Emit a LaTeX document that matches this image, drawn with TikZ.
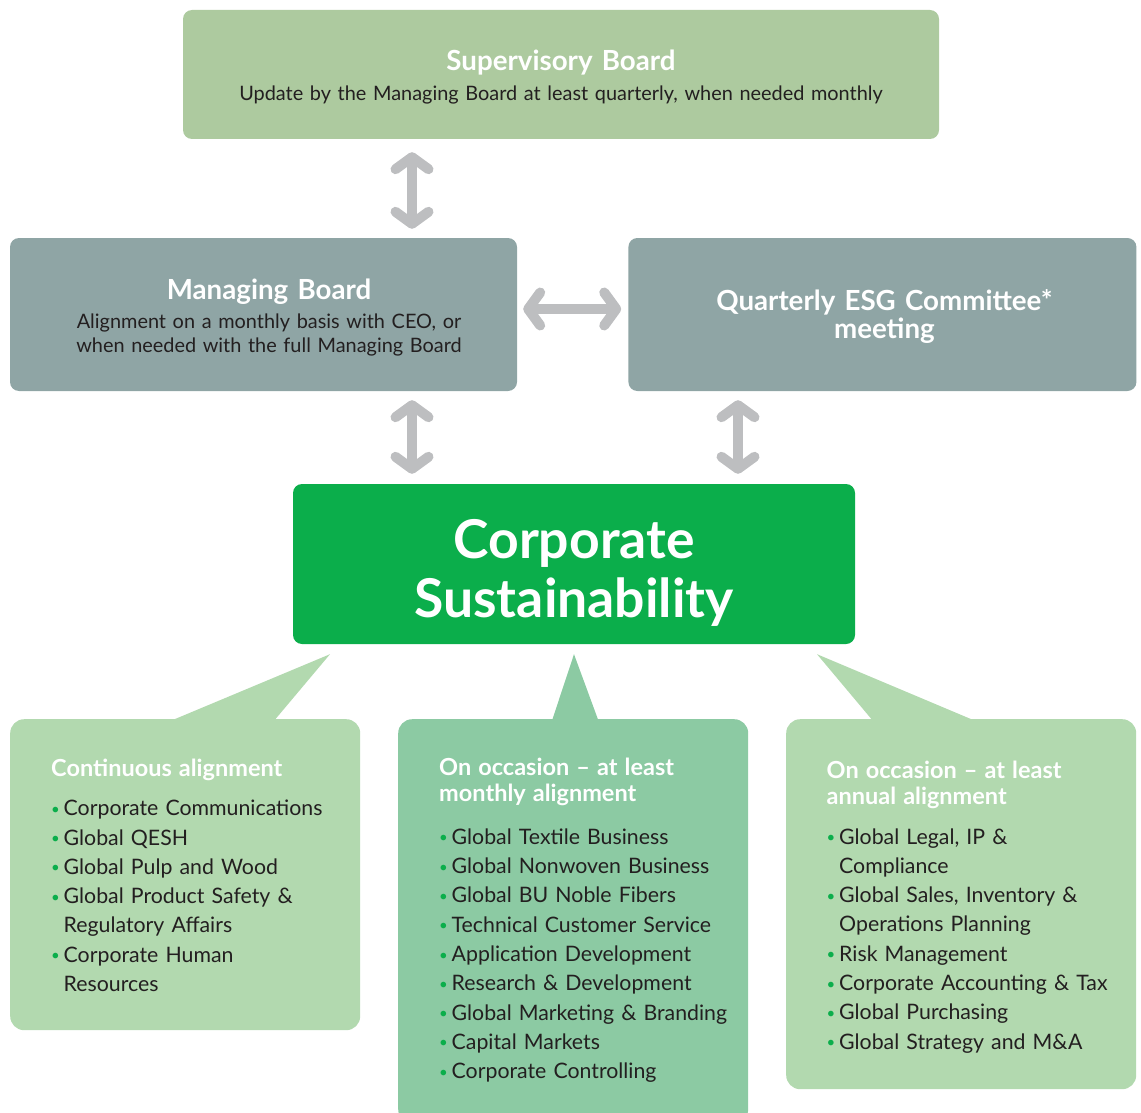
\documentclass[tikz,border=0pt]{standalone}
\usepackage{fontspec}
\setmainfont{Lato}
\usetikzlibrary{arrows.meta,positioning,calc}

\definecolor{supgreen}{HTML}{ADCA9F}
\definecolor{boardgray}{HTML}{8FA5A5}
\definecolor{csgreen}{HTML}{0BAE4B}
\definecolor{lightbubble}{HTML}{B2D9AF}
\definecolor{midbubble}{HTML}{8CCAA3}
\definecolor{arrowgray}{HTML}{BDBEC0}
\definecolor{darktext}{HTML}{231F20}

\newcommand{\bul}{\makebox[12.5pt][l]{\textcolor{csgreen}{\raisebox{1.5pt}{\fontsize{15}{15}\selectfont •}}}}
\newcommand{\ind}{\hspace*{12.5pt}}
\newcommand{\lhead}[1]{{\color{white}\bfseries\fontsize{23.5}{26}\selectfont #1}}

\begin{document}
\begin{tikzpicture}[x=1pt, y=-1pt,
                    board/.style={rectangle, rounded corners=9pt, inner sep=0pt},
                    bubble/.style={rectangle, rounded corners=14pt, inner sep=0pt, minimum width=350pt, anchor=north west},
                    boxtitle/.style={text=white, font=\bfseries\fontsize{27.7}{27.6}\selectfont, align=center, text width=500pt, anchor=base, inner sep=0pt},
                    boxtext/.style={text=darktext, font=\fontsize{19.9}{24}\selectfont, align=center, text width=500pt, anchor=base, inner sep=0pt},
                    listtext/.style={text=darktext, font=\fontsize{21.3}{29.3}\selectfont, align=left, text width=330pt, anchor=base west, inner sep=0pt},
                    dblarrow/.style={draw=arrowgray, line width=10pt,
                      {Straight Barb[length=12pt, width=33pt, round]}-{Straight Barb[length=12pt, width=33pt, round]}}]
  \useasboundingbox (0,0) rectangle (1141,1113);

  % boards
  \node[board, fill=supgreen, minimum width=756pt, minimum height=129pt] (sup) at (561,74.5) {};
  \node[board, fill=boardgray, minimum width=507pt, minimum height=153pt] (mb) at (263.5,314.5) {};
  \node[board, fill=boardgray, minimum width=508pt, minimum height=153pt, right=111pt of mb] (esg) {};
  \node[board, fill=csgreen, minimum width=562pt, minimum height=160pt] (cs) at (574,564) {};

  \node[boxtitle] (suptitle) at ([yshift=-60.7pt]sup.north) {Supervisory Board};
  \node[boxtext, text width=700pt] (suptext) at ([yshift=-91pt]sup.north) {Update by the Managing Board at least quarterly, when needed monthly};
  \node[boxtitle] (mbtitle) at ([xshift=5.5pt, yshift=-61.3pt]mb.north) {Managing Board};
  \node[boxtext] (mbtext) at ([xshift=5.5pt, yshift=-90.3pt]mb.north) {Alignment on a monthly basis with CEO, or\\when needed with the full Managing Board};
  \node[boxtitle] (esgtitle) at ([xshift=2pt, yshift=-72.7pt]esg.north) {Quarterly ESG Committee*\\meeting};
  \node[boxtitle, font=\bfseries\fontsize{53.5}{59}\selectfont] (cstitle) at ([yshift=-75pt]cs.north) {Corporate\\Sustainability};

  % arrows
  \coordinate (axl) at (412,0);
  \coordinate (axr) at (738,0);
  \draw[dblarrow, shorten <=13pt, shorten >=9pt] (sup.south -| axl) -- (mb.north -| axl);
  \draw[dblarrow, shorten <=9pt, shorten >=10pt] (mb.south -| axl) -- (cs.north -| axl);
  \draw[dblarrow, shorten <=9pt, shorten >=10pt] (esg.south -| axr) -- (cs.north -| axr);
  \draw[dblarrow, shorten <=6pt, shorten >=7pt] ([yshift=5.5pt]mb.east) -- ([yshift=5.5pt]esg.west);

  % bubbles
  \node[bubble, fill=lightbubble, minimum height=311pt] (bubl) at (10,719) {};
  \node[bubble, fill=midbubble, minimum height=404pt] (bubm) at (398,719) {};
  \node[bubble, fill=lightbubble, minimum height=370pt] (bubr) at (786,719) {};
  \fill[lightbubble] ([xshift=-244pt, yshift=-10pt]cs.south) -- ([xshift=89.5pt, yshift=-1pt]bubl.north) -- ([xshift=-12.5pt, yshift=-1pt]bubl.north) -- cycle;
  \fill[midbubble] ([yshift=-10pt]cs.south) -- ([xshift=25pt, yshift=-1pt]bubm.north) -- ([xshift=-21pt, yshift=-1pt]bubm.north) -- cycle;
  \fill[lightbubble] ([xshift=243pt, yshift=-10pt]cs.south) -- ([xshift=12pt, yshift=-1pt]bubr.north) -- ([xshift=-89pt, yshift=-1pt]bubr.north) -- cycle;

  \node[listtext] (listl) at (51,776) {\lhead{Continuous alignment}\\[10.4pt]
    \bul Corporate Communications\\
    \bul Global QESH\\
    \bul Global Pulp and Wood\\
    \bul Global Product Safety \&\\
    \ind Regulatory Affairs\\
    \bul Corporate Human\\
    \ind Resources};
  \node[listtext] (listm) at (439,775) {\lhead{On occasion – at least}\\[-3.3pt]
    \lhead{monthly alignment}\\[14pt]
    \bul Global Textile Business\\
    \bul Global Nonwoven Business\\
    \bul Global BU Noble Fibers\\
    \bul Technical Customer Service\\
    \bul Application Development\\
    \bul Research \& Development\\
    \bul Global Marketing \& Branding\\
    \bul Capital Markets\\
    \bul Corporate Controlling};
  \node[listtext] (listr) at (826.5,778.3) {\lhead{On occasion – at least}\\[-3.6pt]
    \lhead{annual alignment}\\[10.7pt]
    \bul Global Legal, IP \&\\
    \ind Compliance\\
    \bul Global Sales, Inventory \&\\
    \ind Operations Planning\\
    \bul Risk Management\\
    \bul Corporate Accounting \& Tax\\
    \bul Global Purchasing\\
    \bul Global Strategy and M\&A};
\end{tikzpicture}
\end{document}
